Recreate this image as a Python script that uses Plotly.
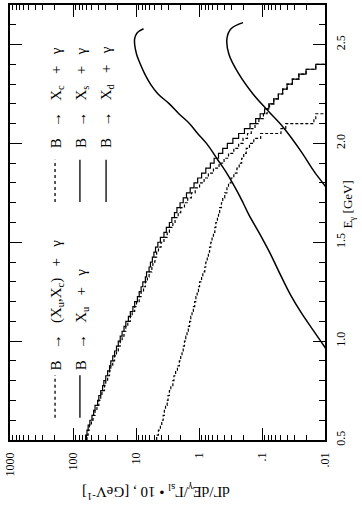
import plotly.graph_objects as go

# ---------------- data ----------------
# histogram bins in photon energy E_gamma [GeV], width 0.025 starting at 0.5
bin_start = 0.5
bin_width = 0.025

# B -> X_u + gamma (solid histogram)
xu_vals = [63, 60, 57.5, 54, 50, 47, 44.7, 40.7, 38.9, 36.3, 33.9, 32.4, 30.2, 28.2, 26.3,
           25.1, 23.4, 21.9, 20.4, 19.1, 17.8, 16.6, 15.5, 14.5, 13.2, 12.3, 11.2, 10.5,
           9.5, 8.9, 8.3, 7.8, 7.1, 6.8, 6.2, 5.9, 5.5, 5.2, 4.9, 4.5, 4.1, 3.6, 3.3, 2.95,
           2.7, 2.45, 2.24, 2.0, 1.78, 1.58, 1.38, 1.20, 1.05, 0.91, 0.78, 0.66, 0.575,
           0.49, 0.42, 0.355, 0.29, 0.235, 0.19, 0.155, 0.126, 0.107, 0.091, 0.078, 0.065,
           0.055, 0.047, 0.040, 0.033, 0.026, 0.020, 0.014]
# B -> (X_u, X_c) + gamma (dotted histogram)
xuc_vals = [60, 57.5, 55, 51, 48, 44.7, 41.7, 38.9, 36.3, 34.7, 31.6, 30.2, 28.2, 26.3, 25.1,
            23.4, 21.9, 20.4, 19.1, 17.8, 16.6, 15.5, 14.5, 13.5, 12.3, 11.5, 10.5, 9.8,
            8.9, 8.3, 7.6, 7.1, 6.6, 6.2, 5.6, 5.4, 5.0, 4.7, 4.4, 4.0, 3.6, 3.2, 2.95, 2.6,
            2.4, 2.14, 1.95, 1.70, 1.51, 1.32, 1.15, 0.98, 0.83, 0.71, 0.59, 0.48, 0.40,
            0.34, 0.28, 0.235, 0.20, 0.17, 0.148, 0.129, 0.112, 0.095, 0.083, 0.076, 0.065,
            0.055, 0.047, 0.040, 0.033, 0.026, 0.020, 0.014]
# B -> X_c + gamma (dotted histogram)
xc_vals = [4.7, 4.4, 4.1, 3.9, 3.7, 3.55, 3.4, 3.2, 3.1, 2.95, 2.8, 2.6, 2.5, 2.35, 2.2,
           2.05, 1.95, 1.86, 1.78, 1.70, 1.62, 1.55, 1.48, 1.41, 1.35, 1.29, 1.23, 1.17,
           1.12, 1.07, 1.02, 0.98, 0.91, 0.87, 0.81, 0.78, 0.74, 0.71, 0.68, 0.65, 0.62,
           0.59, 0.56, 0.54, 0.51, 0.49, 0.47, 0.44, 0.42, 0.39, 0.36, 0.34, 0.31, 0.28,
           0.25, 0.23, 0.21, 0.195, 0.178, 0.158, 0.135, 0.105, 0.050, 0.042, 0.015, 0.014]

# B -> X_s + gamma (smooth curve)
xs_E = [0.94, 1.00, 1.07, 1.145, 1.23, 1.33, 1.45, 1.55, 1.64, 1.70, 1.76, 1.85, 1.92,
        2.00, 2.05, 2.10, 2.15, 2.20, 2.25, 2.30, 2.35, 2.40, 2.45, 2.50, 2.53, 2.56, 2.58]
xs_vals = [0.0087, 0.0117, 0.0166, 0.024, 0.0347, 0.050, 0.076, 0.112, 0.162, 0.20, 0.25,
           0.363, 0.51, 0.76, 1.05, 1.41, 2.09, 2.95, 4.47, 5.89, 7.24, 8.51, 9.77, 10.5,
           10.5, 9.55, 7.59]
# B -> X_d + gamma (smooth curve)
xd_E = [1.76, 1.785, 1.86, 1.96, 2.077, 2.16, 2.25, 2.35, 2.45, 2.53, 2.58, 2.611]
xd_vals = [0.0089, 0.010, 0.015, 0.024, 0.0448, 0.0776, 0.139, 0.232, 0.334, 0.36, 0.31, 0.20]

# axis ticks
rate_ticks = [1000, 100, 10, 1, 0.1, 0.01]
rate_labels = ["1000", "100", "10", "1", ".1", ".01"]
e_ticks = [0.5, 1.0, 1.5, 2.0, 2.5]
e_labels = ["0.5", "1.0", "1.5", "2.0", "2.5"]

FONT = "Liberation Serif"
SP = "\u00a0" * 3


def step_xy(vals):
    n = len(vals)
    edges = [round(bin_start + i * bin_width, 4) for i in range(n + 1)]
    xs = list(vals) + [vals[-1], 1e-3]
    ys = edges + [edges[-1]]
    return xs, ys


fig = go.Figure()

for vals, dash in [(xuc_vals, "3px,2px"), (xu_vals, "solid"), (xc_vals, "3px,2px")]:
    x, y = step_xy(vals)
    fig.add_trace(go.Scatter(x=x, y=y, mode="lines", line_shape="vh",
                             line=dict(color="black", width=1.2, dash=dash),
                             hoverinfo="skip"))

fig.add_trace(go.Scatter(x=xs_vals, y=xs_E, mode="lines", line_shape="spline",
                         line=dict(color="black", width=1.5), hoverinfo="skip"))
fig.add_trace(go.Scatter(x=xd_vals, y=xd_E, mode="lines", line_shape="spline",
                         line=dict(color="black", width=1.5), hoverinfo="skip"))

minor_vals = [m * 10.0 ** k for k in range(-2, 3) for m in range(2, 10)]

fig.update_xaxes(type="log", range=[3, -2], tickmode="array", tickvals=rate_ticks,
                 ticktext=rate_labels, tickangle=-90, ticks="inside", ticklen=12,
                 tickwidth=1, tickcolor="black", showline=True, linecolor="black",
                 linewidth=1.5, mirror="ticks", showgrid=False, zeroline=False,
                 automargin=False,
                 tickfont=dict(family=FONT, size=12, color="black"),
                 ticklabelstandoff=6,
                 minor=dict(tickmode="array", tickvals=minor_vals, ticks="inside",
                            ticklen=5, tickcolor="black", showgrid=False))
fig.update_yaxes(range=[0.5, 2.7], side="right", tickmode="array", tickvals=e_ticks,
                 ticktext=e_labels, tickangle=-90, ticks="inside", ticklen=12,
                 tickwidth=1, tickcolor="black", showline=True, linecolor="black",
                 linewidth=1.5, mirror="ticks", showgrid=False, zeroline=False,
                 automargin=False,
                 tickfont=dict(family=FONT, size=12, color="black"),
                 ticklabelstandoff=4,
                 minor=dict(dtick=0.1, tick0=0.5, ticks="inside", ticklen=6,
                            tickcolor="black", showgrid=False))

annotations = [
    dict(text="E<sub>γ</sub> [GeV]", x=1.108, y=0.54, textangle=-90, size=13,
         xanchor="right"),
    dict(text="dΓ/dE<sub>γ</sub>/Γ<sub>sl</sub> • 10 , [GeV<sup>-1</sup>]",
         x=0.463, y=-0.12, textangle=180, size=15),
]
legend_lower = [f"B{SP}→{SP}(X<sub>u</sub>,X<sub>c</sub>){SP}+{SP}γ",
                f"B{SP}→{SP}X<sub>u</sub>{SP}+{SP}γ"]
legend_upper = [f"B{SP}→{SP}X<sub>c</sub>{SP}+{SP}γ",
                f"B{SP}→{SP}X<sub>s</sub>{SP}+{SP}γ",
                f"B{SP}→{SP}X<sub>d</sub>{SP}+{SP}γ"]
row_x = [0.149, 0.229, 0.308]
for i, t in enumerate(legend_lower):
    annotations.append(dict(text=t, x=row_x[i], y=0.156, textangle=-90, yanchor="bottom"))
for i, t in enumerate(legend_upper):
    annotations.append(dict(text=t, x=row_x[i], y=0.667, textangle=-90, yanchor="bottom"))

for a in annotations:
    a.setdefault("yanchor", "middle")
    a.setdefault("xanchor", "center")
    size = a.pop("size", 15)
    a.update(xref="paper", yref="paper", showarrow=False,
             font=dict(family=FONT, size=size, color="black"))

sample_x = [0.143, 0.222, 0.305]
sample_dash = ["dot", "solid", "solid"]
shapes = []
for i in range(2):
    shapes.append(dict(type="line", xref="paper", yref="paper", x0=sample_x[i], x1=sample_x[i],
                       y0=0.051, y1=0.149, line=dict(color="black", width=1.3, dash=sample_dash[i])))
for i in range(3):
    shapes.append(dict(type="line", xref="paper", yref="paper", x0=sample_x[i], x1=sample_x[i],
                       y0=0.547, y1=0.644, line=dict(color="black", width=1.3, dash=sample_dash[i])))

fig.update_layout(width=362, height=510, margin=dict(l=10, r=37, t=5, b=70),
                  plot_bgcolor="white", paper_bgcolor="white", showlegend=False,
                  annotations=annotations, shapes=shapes)

fig.write_html("out.html", config={"displayModeBar": False},
               post_script="document.body.style.margin='0';")
